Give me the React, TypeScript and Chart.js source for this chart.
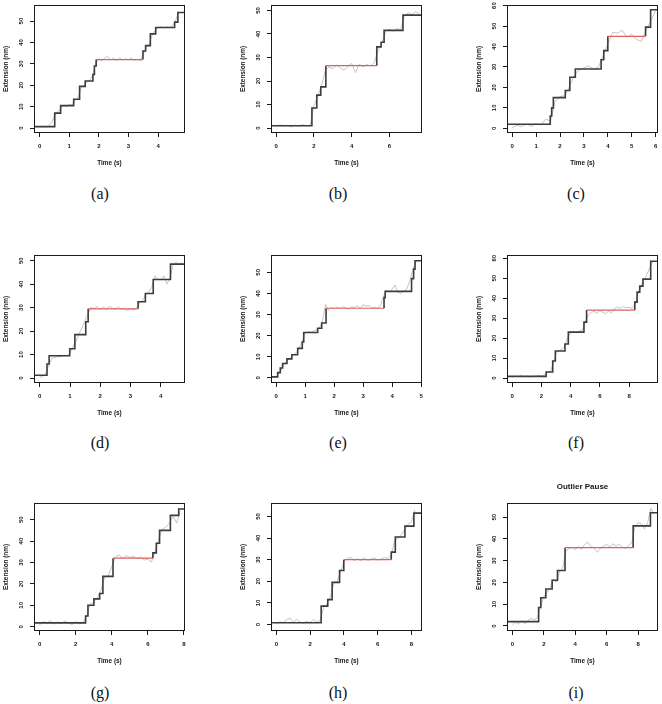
import React, { useEffect, useRef } from 'react';
import { Chart, registerables } from 'chart.js';

Chart.register(...registerables);

// ---------- panel (a) ----------
const aStepT = [-0.19, 0.51, 0.71, 1.15, 1.35, 1.54, 1.80, 1.85, 1.91, 3.49, 3.58, 3.74, 3.92, 4.56, 4.67];
const aStepY = [0.7, 7, 10.5, 13.5, 19.5, 22, 25, 29, 32, 36, 38.5, 44, 47, 49.5, 54];
const aPause = 8;
const aRaw = [0.3, 0.8, 0.5, 0.9, 2.5, 5.5, 7.5, 9.0, 10.5, 10.0, 11.2, 10.6, 13.0, 14.5, 18.5, 20.0, 21.5, 22.5, 25.0, 30.5,
  32.5, 31.5, 32.8, 33.5, 31.8, 32.6, 31.5, 32.9, 31.7, 32.4, 31.9, 32.6, 31.6, 32.2, 31.5, 34.5, 37.5, 39.5, 43.5, 45.5,
  46.8, 47.4, 46.8, 47.3, 46.9, 48.0, 50.5, 54.5];
const aDt = 0.1;
const aXRange = [-0.19, 4.91];
const aYRange = [-2.3, 57.5];
const aXStep = 1;

// ---------- panel (b) ----------
const bStepT = [-0.28, 1.89, 2.15, 2.36, 2.63, 5.33, 5.56, 5.72, 6.72];
const bStepY = [1, 8.5, 14, 17.5, 26.5, 34.5, 36.5, 41.5, 48];
const bPause = 4;
const bRaw = [0.6, 1.4, 0.8, 1.2, 0.5, 1.3, 0.7, 1.5, 0.9, 1.2, 9.5, 13.5, 18.0, 24.5, 26.0, 25.2, 26.8, 25.5, 24.6, 26.2,
  27.5, 23.5, 27.2, 26.0, 27.0, 26.4, 27.8, 33.0, 36.0, 41.0, 42.0, 41.2, 42.3, 41.8, 47.5, 49.0, 48.2, 49.5, 48.4];
const bDt = 0.2;
const bXRange = [-0.28, 7.73];
const bYRange = [-2.1, 52.3];
const bXStep = 2;

// ---------- panel (c) ----------
const cStepT = [-0.22, 1.59, 1.65, 1.72, 2.22, 2.41, 2.64, 3.72, 3.83, 4.0, 5.58, 5.79];
const cStepY = [2, 6, 10, 15, 18.5, 25, 29, 33.5, 38, 45, 49.5, 58];
const cPause = 9;
const cRaw = [0.3, 1.5, 0.8, 2.2, 0.9, 2.3, 1.6, 4.5, 3.5, 13.5, 15.5, 16.0, 20.5, 26.0, 28.5, 29.5, 30.5, 29.0, 29.8, 35.5,
  41.0, 47.0, 46.5, 48.0, 44.5, 46.0, 43.5, 42.5, 48.0, 52.5, 57.5];
const cDt = 0.2;
const cXRange = [-0.22, 6.1];
const cYRange = [-2.3, 60.3];
const cXStep = 1;

// ---------- panel (d) ----------
const dStepT = [-0.19, 0.24, 0.31, 0.99, 1.16, 1.52, 1.60, 3.25, 3.49, 3.75, 4.32];
const dStepY = [1.2, 6, 9.5, 12.5, 18.5, 24, 29.5, 32.5, 36, 42, 48.5];
const dPause = 6;
const dRaw = [0.3, 0.8, 2.0, 5.5, 8.5, 8.8, 9.2, 9.0, 9.8, 9.4, 10.5, 13.5, 15.5, 19.0, 21.5, 24.5, 27.5, 30.2, 29.6, 30.4,
  29.3, 30.1, 29.5, 30.6, 29.8, 29.4, 30.2, 29.2, 29.7, 28.8, 29.5, 29.0, 30.0, 31.8, 33.0, 35.5, 36.8, 38.5, 43.5, 42.2,
  41.8, 43.5, 40.0, 42.5, 48.0, 49.5, 48.4, 49.2];
const dDt = 0.1;
const dXRange = [-0.19, 4.8];
const dYRange = [-2.1, 52.4];
const dXStep = 1;

// ---------- panel (e) ----------
const eStepT = [-0.18, 0.05, 0.14, 0.22, 0.37, 0.54, 0.74, 0.90, 0.95, 1.43, 1.57, 1.72, 3.72, 3.76, 4.67, 4.74, 4.79];
const eStepY = [0.5, 2.5, 4.7, 6.8, 9, 11, 14, 17, 21.5, 23.5, 26, 33, 38, 41, 47, 51.5, 55.5];
const ePause = 11;
const eRaw = [0.5, 2.0, 4.5, 7.0, 8.5, 9.5, 11.0, 12.0, 14.2, 17.5, 21.0, 22.0, 21.5, 22.4, 22.8, 23.8, 27.0, 35.0, 32.0, 33.5,
  32.8, 33.6, 32.9, 33.8, 33.1, 32.5, 33.7, 33.2, 34.2, 32.8, 34.6, 33.9, 34.3, 33.0, 33.6, 32.9, 34.5, 38.5, 41.5, 40.8,
  42.0, 44.0, 40.5, 40.0, 41.2, 42.0, 45.5, 50.5, 55.0, 55.8];
const eDt = 0.1;
const eXRange = [-0.18, 5.03];
const eYRange = [-2.4, 58.2];
const eXStep = 1;

// ---------- panel (f) ----------
const fStepT = [-0.36, 2.32, 2.77, 2.95, 3.61, 3.84, 4.91, 5.09, 8.39, 8.55, 8.73, 8.95, 9.48];
const fStepY = [0.8, 3, 8.5, 13.5, 17, 23, 28, 34, 38, 43, 46, 49.5, 58.5];
const fPause = 7;
const fRaw = [0.5, 1.0, 0.6, 1.2, 0.7, 0.9, 0.5, 1.1, 0.8, 1.4, 1.0, 1.6, 2.5, 3.2, 7.0, 12.0, 13.8, 14.5, 16.0, 20.5,
  22.5, 23.2, 22.6, 23.5, 24.0, 28.0, 31.5, 32.8, 33.4, 32.4, 33.8, 33.0, 32.2, 33.5, 32.6, 34.8, 35.5, 34.9, 35.8, 35.2,
  35.4, 34.8, 36.5, 42.0, 45.5, 49.0, 51.5, 55.0, 58.0];
const fDt = 0.2;
const fXRange = [-0.36, 9.98];
const fYRange = [-2.5, 61.6];
const fXStep = 2;

// ---------- panel (g) ----------
const gStepT = [-0.31, 2.55, 2.68, 3.01, 3.33, 3.51, 4.07, 6.28, 6.47, 6.65, 7.25, 7.71];
const gStepY = [1.8, 5, 10, 13, 15.5, 23.5, 32, 34.5, 39, 45, 52, 55];
const gPause = 6;
const gRaw = [0.8, 2.5, 1.5, 3.0, 1.2, 2.2, 1.5, 2.6, 1.8, 1.0, 2.4, 1.4, 2.0, 4.5, 10.5, 11.5, 13.5, 17.0, 23.0, 23.8,
  28.0, 32.5, 33.5, 32.0, 33.2, 32.4, 32.9, 31.8, 32.6, 31.2, 31.5, 30.2, 35.0, 41.0, 45.5, 46.5, 48.5, 51.5, 48.5, 54.0];
const gDt = 0.2;
const gXRange = [-0.31, 8.06];
const gYRange = [-2.0, 57.8];
const gXStep = 2;

// ---------- panel (h) ----------
const hStepT = [-0.32, 2.65, 3.04, 3.30, 3.74, 3.99, 6.80, 7.04, 7.61, 8.14];
const hStepY = [0.8, 8.5, 11.5, 19.5, 25, 30, 33.5, 40.5, 45.5, 51.5];
const hPause = 5;
const hRaw = [0.5, 1.2, 0.8, 2.2, 3.0, 1.0, 2.5, 1.2, 0.6, 1.4, 0.9, 2.4, 1.1, 2.0, 8.0, 9.5, 13.0, 19.0, 20.0, 24.5,
  29.0, 30.5, 31.2, 29.5, 30.6, 29.4, 30.8, 29.6, 30.2, 30.9, 29.7, 30.4, 31.0, 30.5, 32.0, 38.5, 40.0, 41.5, 44.0, 46.5,
  47.5, 53.0];
const hDt = 0.2;
const hXRange = [-0.32, 8.62];
const hYRange = [-3.0, 56.2];
const hXStep = 2;

// ---------- panel (i) ----------
const iStepT = [-0.34, 1.67, 1.81, 2.13, 2.53, 2.87, 3.35, 7.68, 8.78];
const iStepY = [2, 8.5, 13, 17, 21, 25.5, 36, 46, 52];
const iPause = 6;
const iRaw = [0.5, 1.8, 1.0, 2.2, 1.0, 2.5, 3.5, 2.8, 4.0, 9.0, 13.5, 15.5, 17.5, 21.5, 20.0, 25.0, 26.5, 34.5, 35.5, 36.2,
  35.0, 36.5, 35.2, 37.5, 38.5, 36.5, 35.8, 33.8, 35.5, 36.8, 37.5, 36.4, 37.8, 36.8, 37.6, 36.2, 35.5, 37.0, 38.5, 45.5,
  47.5, 47.0, 44.5, 47.5, 54.0, 51.5];
const iDt = 0.2;
const iXRange = [-0.34, 9.26];
const iYRange = [-2.3, 56.5];
const iXStep = 2;

const iTitle = 'Outlier Pause';
const captions = ['(a)', '(b)', '(c)', '(d)', '(e)', '(f)', '(g)', '(h)', '(i)'];
const xTitle = 'Time (s)';
const yTitle = 'Extension (nm)';

type Spec = {
  stepT: number[]; stepY: number[]; pause: number; raw: number[]; dt: number;
  xr: number[]; yr: number[]; xs: number; title?: string;
};

const specs: Spec[] = [
  { stepT: aStepT, stepY: aStepY, pause: aPause, raw: aRaw, dt: aDt, xr: aXRange, yr: aYRange, xs: aXStep },
  { stepT: bStepT, stepY: bStepY, pause: bPause, raw: bRaw, dt: bDt, xr: bXRange, yr: bYRange, xs: bXStep },
  { stepT: cStepT, stepY: cStepY, pause: cPause, raw: cRaw, dt: cDt, xr: cXRange, yr: cYRange, xs: cXStep },
  { stepT: dStepT, stepY: dStepY, pause: dPause, raw: dRaw, dt: dDt, xr: dXRange, yr: dYRange, xs: dXStep },
  { stepT: eStepT, stepY: eStepY, pause: ePause, raw: eRaw, dt: eDt, xr: eXRange, yr: eYRange, xs: eXStep },
  { stepT: fStepT, stepY: fStepY, pause: fPause, raw: fRaw, dt: fDt, xr: fXRange, yr: fYRange, xs: fXStep },
  { stepT: gStepT, stepY: gStepY, pause: gPause, raw: gRaw, dt: gDt, xr: gXRange, yr: gYRange, xs: gXStep },
  { stepT: hStepT, stepY: hStepY, pause: hPause, raw: hRaw, dt: hDt, xr: hXRange, yr: hYRange, xs: hXStep },
  { stepT: iStepT, stepY: iStepY, pause: iPause, raw: iRaw, dt: iDt, xr: iXRange, yr: iYRange, xs: iXStep, title: iTitle },
];

// layout (page pixels)
const COL_LEFT = [34, 271, 507];
const ROW_TOP = [5, 255, 503];
const BOX_W = 151;
const BOX_H = 128;
const Y_AXIS_W = 34;
const X_AXIS_H = 45;
const PAD_TOP = 30;
const PAD_RIGHT = 3;
const CAP_X = [100, 338, 576];
const CAP_Y = [194, 443, 693];

const SANS = '"Liberation Sans", Arial, Helvetica, sans-serif';

const rPlugin = {
  id: 'rstyle',
  afterDraw(chart: any, _args: any, opts: any) {
    const { ctx, chartArea: ca, scales } = chart;
    const xs = scales.x;
    const ys = scales.y;
    ctx.save();
    // box
    ctx.strokeStyle = '#1a1a1a';
    ctx.lineWidth = 1;
    ctx.strokeRect(Math.round(ca.left) + 0.5, Math.round(ca.top) + 0.5,
      Math.round(ca.right - ca.left) - 1, Math.round(ca.bottom - ca.top) - 1);
    // tick labels
    ctx.fillStyle = '#151515';
    ctx.font = `bold 6px ${SANS}`;
    ctx.textAlign = 'center';
    ctx.textBaseline = 'middle';
    xs.ticks.forEach((t: any) => {
      ctx.fillText(String(t.value), xs.getPixelForValue(t.value), ca.bottom + 13.5);
    });
    ys.ticks.forEach((t: any) => {
      ctx.save();
      ctx.translate(ca.left - 13, ys.getPixelForValue(t.value));
      ctx.rotate(-Math.PI / 2);
      ctx.fillText(String(t.value), 0, 0);
      ctx.restore();
    });
    // axis titles
    ctx.font = `bold 6.4px ${SANS}`;
    ctx.fillText(xTitle, (ca.left + ca.right) / 2, ca.bottom + 30);
    ctx.save();
    ctx.translate(ca.left - 28, (ca.top + ca.bottom) / 2);
    ctx.rotate(-Math.PI / 2);
    ctx.fillText(yTitle, 0, 0);
    ctx.restore();
    if (opts && opts.title) {
      ctx.font = `bold 8px ${SANS}`;
      ctx.fillText(opts.title, (ca.left + ca.right) / 2, ca.top - 16);
    }
    ctx.restore();
  },
};

function Panel({ spec, left, top }: { spec: Spec; left: number; top: number }) {
  const ref = useRef<HTMLCanvasElement | null>(null);
  const W = Y_AXIS_W + BOX_W + PAD_RIGHT;
  const H = PAD_TOP + BOX_H + X_AXIS_H;

  useEffect(() => {
    if (!ref.current) return;
    const { stepT, stepY, pause: p, raw, dt, xr, yr, xs } = spec;
    const last = stepY.length - 1;
    const pre = stepT.slice(0, p + 1).map((t, i) => ({ x: t, y: stepY[i] }));
    const post = [{ x: stepT[p + 1], y: stepY[p] }]
      .concat(stepT.slice(p + 1).map((t, k) => ({ x: t, y: stepY[p + 1 + k] })))
      .concat([{ x: xr[1], y: stepY[last] }]);
    const red = [{ x: stepT[p], y: stepY[p] }, { x: stepT[p + 1], y: stepY[p] }];
    const rawPts = raw.map((v, i) => ({ x: +(i * dt).toFixed(3), y: v }));

    const line = (data: any[], color: string, width: number, stepped: any) => ({
      data, borderColor: color, borderWidth: width, pointRadius: 0, fill: false,
      tension: 0, stepped, borderJoinStyle: 'miter' as const,
    });

    const axisCommon = {
      type: 'linear' as const,
      border: { display: false },
      grid: { display: true, drawOnChartArea: false, drawTicks: true, tickLength: 4, color: '#1a1a1a', lineWidth: 1 },
    };

    const chart = new Chart(ref.current, {
      type: 'line',
      data: {
        datasets: [
          line(red, '#e0605e', 1.2, false),
          line(pre, '#3c3c3c', 1.6, 'before'),
          line(post, '#3c3c3c', 1.6, 'before'),
          line(rawPts, '#c4c4c4', 1, false),
        ],
      },
      options: {
        animation: false,
        responsive: false,
        maintainAspectRatio: false,
        events: [],
        layout: { padding: { left: 0, right: PAD_RIGHT, top: PAD_TOP, bottom: 0 } },
        plugins: {
          legend: { display: false },
          tooltip: { enabled: false },
          title: { display: false },
          rstyle: { title: spec.title },
        } as any,
        scales: {
          x: {
            ...axisCommon,
            min: xr[0], max: xr[1],
            ticks: { display: false, stepSize: xs, includeBounds: false },
            afterFit: (s: any) => { s.height = X_AXIS_H; },
          },
          y: {
            ...axisCommon,
            min: yr[0], max: yr[1],
            ticks: { display: false, stepSize: 10, includeBounds: false },
            afterFit: (s: any) => { s.width = Y_AXIS_W; },
          },
        },
      },
      plugins: [rPlugin],
    } as any);
    return () => chart.destroy();
  }, [spec]);

  return (
    <canvas
      ref={ref}
      width={W}
      height={H}
      style={{ position: 'absolute', left: left - Y_AXIS_W, top: top - PAD_TOP, width: W, height: H, display: 'block' }}
    />
  );
}

export default function App() {
  return (
    <div style={{ position: 'absolute', left: 0, top: 0, width: 662, height: 704, background: '#fff', overflow: 'hidden' }}>
      {specs.map((s, idx) => (
        <Panel key={idx} spec={s} left={COL_LEFT[idx % 3]} top={ROW_TOP[Math.floor(idx / 3)]} />
      ))}
      {captions.map((c, idx) => (
        <div
          key={'c' + idx}
          style={{
            position: 'absolute',
            left: CAP_X[idx % 3] - 30,
            top: CAP_Y[Math.floor(idx / 3)] - 10,
            width: 60,
            height: 20,
            lineHeight: '20px',
            textAlign: 'center',
            fontFamily: '"Liberation Serif", "DejaVu Serif", serif',
            fontSize: 16,
            color: '#111',
          }}
        >
          {c}
        </div>
      ))}
    </div>
  );
}
